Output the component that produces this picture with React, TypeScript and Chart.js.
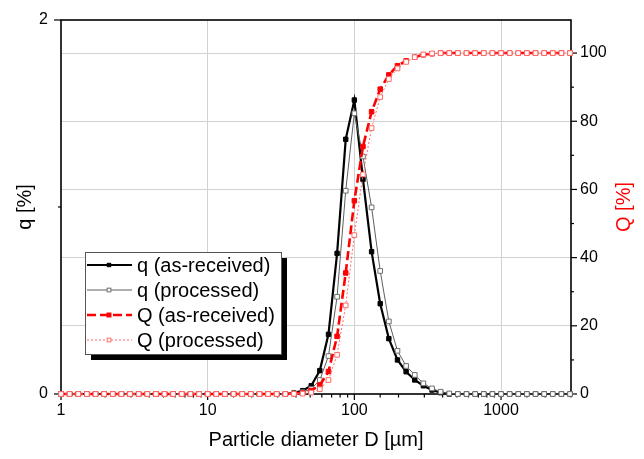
import React, { useEffect, useRef } from "react";
import { Chart, registerables } from "chart.js";

Chart.register(...registerables);

// ---------- data ----------
const DIAMETERS = [
  1, 1.145, 1.311, 1.501, 1.719, 1.968, 2.254, 2.581, 2.955, 3.384, 3.875, 4.437, 5.08, 5.817, 6.661, 7.627, 8.733,
  10, 11.45, 13.11, 15.01, 17.19, 19.68, 22.54, 25.81, 29.55, 33.84, 38.75, 44.37, 50.8, 58.17, 66.61, 76.27, 87.33,
  100, 114.5, 131.1, 150.1, 171.9, 196.8, 225.4, 258.1, 295.5, 338.4, 387.5, 443.7, 508, 581.7, 666.1, 762.7, 873.3,
  1000, 1145, 1311, 1501, 1719, 1968, 2254, 2581, 2955,
];

const Q_DENS_RECEIVED = [
  0, 0, 0, 0, 0, 0, 0, 0, 0, 0, 0, 0, 0, 0, 0, 0, 0,
  0, 0, 0, 0, 0, 0, 0, 0, 0, 0, 0.005, 0.018, 0.044, 0.125, 0.319, 0.752, 1.362,
  1.572, 1.148, 0.761, 0.483, 0.296, 0.182, 0.119, 0.075, 0.044, 0.021, 0.007, 0, 0, 0, 0, 0, 0,
  0, 0, 0, 0, 0, 0, 0, 0, 0,
];

const Q_DENS_PROCESSED = [
  0, 0, 0, 0, 0, 0, 0, 0, 0, 0, 0, 0, 0, 0, 0, 0, 0,
  0, 0, 0, 0, 0, 0, 0, 0, 0, 0, 0.003, 0.01, 0.027, 0.075, 0.203, 0.52, 1.087,
  1.501, 1.27, 0.998, 0.658, 0.388, 0.231, 0.15, 0.102, 0.057, 0.03, 0.012, 0.003, 0, 0, 0, 0, 0,
  0, 0, 0, 0, 0, 0, 0, 0, 0,
];

const Q_CUM_RECEIVED = [
  0, 0, 0, 0, 0, 0, 0, 0, 0, 0, 0, 0, 0, 0, 0, 0, 0,
  0, 0, 0, 0, 0, 0, 0, 0, 0, 0, 0.1, 0.3, 1.0, 2.6, 6.6, 16.9, 35.5,
  56.7, 72.6, 82.8, 89.4, 93.6, 96.3, 97.7, 98.8, 99.5, 99.8, 100, 100, 100, 100, 100, 100, 100,
  100, 100, 100, 100, 100, 100, 100, 100, 100,
];

const Q_CUM_PROCESSED = [
  0, 0, 0, 0, 0, 0, 0, 0, 0, 0, 0, 0, 0, 0, 0, 0, 0,
  0, 0, 0, 0, 0, 0, 0, 0, 0, 0, 0.05, 0.1, 0.4, 1.4, 4.1, 11.5, 26.0,
  46.6, 64.4, 78.0, 87.1, 92.4, 95.5, 97.4, 98.8, 99.6, 99.9, 100, 100, 100, 100, 100, 100, 100,
  100, 100, 100, 100, 100, 100, 100, 100, 100,
];

const SERIES_LABELS = ["q (as-received)", "q (processed)", "Q (as-received)", "Q (processed)"];
const X_TICK_VALUES = [1, 10, 100, 1000];
const X_TICK_LABELS = ["1", "10", "100", "1000"];
const LEFT_TICK_VALUES = [0, 2];
const LEFT_TICK_LABELS = ["0", "2"];
const RIGHT_TICK_VALUES = [0, 20, 40, 60, 80, 100];
const RIGHT_TICK_LABELS = ["0", "20", "40", "60", "80", "100"];
const X_TITLE = "Particle diameter D [µm]";
const LEFT_TITLE = "q [%]";
const RIGHT_TITLE = "Q [%]";

// ---------- styles ----------
const FONT = '"Liberation Sans", Arial, Helvetica, sans-serif';
const GRID = "#d2d2d2";
const RED = "#ff0000";
const PINK = "#ff6a6a";
const GRAY = "#5e5e5e";

const STYLES = [
  { line: "#000", width: 2.2, dash: [] as number[], fill: "#000", stroke: "#000", r: 3.1, lr: 2.4 },
  { line: GRAY, width: 1, dash: [] as number[], fill: "#fff", stroke: "#6e6e6e", r: 3.3, lr: 2.6 },
  { line: RED, width: 2.6, dash: [9, 4], fill: RED, stroke: RED, r: 3.2, lr: 2.8 },
  { line: PINK, width: 1, dash: [2, 2], fill: "#fff", stroke: PINK, r: 3.3, lr: 2.6 },
];

const isPow10 = (v: number) => {
  if (!(v > 0)) return false;
  const l = Math.log10(v);
  return Math.abs(l - Math.round(l)) < 1e-9;
};

const decorPlugin = {
  id: "decor",
  beforeDatasetsDraw(chart: any) {
    const { ctx, chartArea: a, scales } = chart;
    const x = scales.x;
    const y = scales.y;
    const y1 = scales.y1;
    ctx.save();
    ctx.strokeStyle = "#000";
    ctx.lineWidth = 1.2;
    const seg = (x0: number, y0: number, x1: number, y1_: number) => {
      ctx.beginPath();
      ctx.moveTo(x0, y0);
      ctx.lineTo(x1, y1_);
      ctx.stroke();
    };
    // x ticks (outward, bottom)
    x.ticks.forEach((t: any) => {
      const px = x.getPixelForValue(t.value);
      if (px < a.left - 0.5 || px > a.right + 0.5) return;
      const len = isPow10(t.value) ? 6 : 3.5;
      seg(px, a.bottom, px, a.bottom + len);
    });
    // left ticks
    y.ticks.forEach((t: any) => {
      const py = y.getPixelForValue(t.value);
      const major = LEFT_TICK_VALUES.includes(t.value);
      seg(a.left, py, a.left - (major ? 7 : 3), py);
    });
    // right ticks
    y1.ticks.forEach((t: any) => {
      if (t.value > 100.5) return;
      const py = y1.getPixelForValue(t.value);
      const major = RIGHT_TICK_VALUES.includes(t.value);
      seg(a.right, py, a.right + (major ? 6 : 3), py);
    });
    // frame
    ctx.lineWidth = 1.6;
    ctx.strokeRect(a.left, a.top, a.right - a.left, a.bottom - a.top);
    ctx.restore();
  },
  afterDraw(chart: any) {
    const { ctx, chartArea: a, scales } = chart;
    const x = scales.x;
    const y = scales.y;
    const y1 = scales.y1;
    ctx.save();
    ctx.fillStyle = "#000";
    ctx.font = `16px ${FONT}`;
    ctx.textBaseline = "middle";
    ctx.textAlign = "center";
    X_TICK_VALUES.forEach((v, i) => {
      ctx.fillText(X_TICK_LABELS[i], x.getPixelForValue(v), a.bottom + 17);
    });
    ctx.textAlign = "right";
    LEFT_TICK_VALUES.forEach((v, i) => {
      ctx.fillText(LEFT_TICK_LABELS[i], a.left - 13, y.getPixelForValue(v));
    });
    ctx.textAlign = "left";
    RIGHT_TICK_VALUES.forEach((v, i) => {
      ctx.fillText(RIGHT_TICK_LABELS[i], a.right + 9, y1.getPixelForValue(v));
    });
    // titles
    ctx.font = `20px ${FONT}`;
    ctx.textAlign = "center";
    ctx.fillText(X_TITLE, (a.left + a.right) / 2, a.bottom + 46);
    const midY = (a.top + a.bottom) / 2;
    ctx.save();
    ctx.translate(25, midY);
    ctx.rotate(-Math.PI / 2);
    ctx.fillText(LEFT_TITLE, 0, 0);
    ctx.restore();
    ctx.save();
    ctx.fillStyle = RED;
    ctx.translate(624, midY);
    ctx.rotate(-Math.PI / 2);
    ctx.fillText(RIGHT_TITLE, 0, 0);
    ctx.restore();

    // legend box with shadow
    const bx = 85, by = 252, bw = 196, bh = 102, sh = 6;
    ctx.fillStyle = "#000";
    ctx.fillRect(bx + sh, by + sh, bw, bh);
    ctx.fillStyle = "#fff";
    ctx.fillRect(bx, by, bw, bh);
    ctx.strokeStyle = "#555";
    ctx.lineWidth = 1;
    ctx.strokeRect(bx + 0.5, by + 0.5, bw, bh);
    ctx.font = `20px ${FONT}`;
    ctx.textAlign = "left";
    ctx.textBaseline = "middle";
    SERIES_LABELS.forEach((label, i) => {
      const s = STYLES[i];
      const ry = by + 13 + i * 25;
      ctx.save();
      ctx.strokeStyle = s.line;
      ctx.lineWidth = s.width;
      ctx.setLineDash(s.dash);
      ctx.beginPath();
      ctx.moveTo(bx + 2, ry);
      ctx.lineTo(bx + 47, ry);
      ctx.stroke();
      ctx.setLineDash([]);
      const side = s.lr * Math.SQRT2;
      ctx.fillStyle = s.fill;
      ctx.fillRect(bx + 24 - side / 2, ry - side / 2, side, side);
      ctx.strokeStyle = s.stroke;
      ctx.lineWidth = 1;
      ctx.strokeRect(bx + 24 - side / 2, ry - side / 2, side, side);
      ctx.restore();
      ctx.fillStyle = "#000";
      ctx.fillText(label, bx + 52, ry + 1);
    });
    ctx.restore();
  },
};

const makeDataset = (label: string, values: number[], s: any, axis: string, order: number) => ({
  label,
  data: DIAMETERS.map((d, i) => ({ x: d, y: values[i] })),
  yAxisID: axis,
  borderColor: s.line,
  borderWidth: s.width,
  borderDash: s.dash,
  pointStyle: "rect",
  pointRadius: s.r,
  pointBackgroundColor: s.fill,
  pointBorderColor: s.stroke,
  pointBorderWidth: 1,
  tension: 0,
  fill: false,
  clip: false,
  order,
});

export default function App() {
  const ref = useRef<HTMLCanvasElement | null>(null);

  useEffect(() => {
    if (!ref.current) return;
    Chart.defaults.font.family = FONT;
    const chart = new Chart(ref.current, {
      type: "line",
      data: {
        datasets: [
          makeDataset(SERIES_LABELS[0], Q_DENS_RECEIVED, STYLES[0], "y", 4),
          makeDataset(SERIES_LABELS[1], Q_DENS_PROCESSED, STYLES[1], "y", 3),
          makeDataset(SERIES_LABELS[2], Q_CUM_RECEIVED, STYLES[2], "y1", 2),
          makeDataset(SERIES_LABELS[3], Q_CUM_PROCESSED, STYLES[3], "y1", 1),
        ] as any,
      },
      options: {
        responsive: false,
        animation: false,
        devicePixelRatio: 1,
        layout: { padding: { top: 20, left: 0, right: 0, bottom: 0 } },
        plugins: { legend: { display: false }, tooltip: { enabled: false } },
        scales: {
          x: {
            type: "logarithmic",
            min: 1,
            max: 3000,
            afterFit: (s: any) => { s.height = 65; },
            border: { display: false },
            ticks: { display: false, autoSkip: false },
            grid: {
              drawTicks: false,
              lineWidth: 1,
              color: (c: any) => {
                const v = c.tick ? c.tick.value : 0;
                return isPow10(v) && v > 1 ? GRID : "rgba(0,0,0,0)";
              },
            },
          },
          y: {
            type: "linear",
            position: "left",
            min: 0,
            max: 2,
            afterFit: (s: any) => { s.width = 61; },
            border: { display: false },
            ticks: { display: false, stepSize: 1 },
            grid: { display: false },
          },
          y1: {
            type: "linear",
            position: "right",
            min: 0,
            max: 109.7,
            afterFit: (s: any) => { s.width = 73; },
            border: { display: false },
            ticks: { display: false, stepSize: 10 },
            grid: {
              drawTicks: false,
              lineWidth: 1,
              color: (c: any) => {
                const v = c.tick ? c.tick.value : 0;
                return v > 0 && v <= 100 && Math.abs(v % 20) < 1e-9 ? GRID : "rgba(0,0,0,0)";
              },
            },
          },
        },
      } as any,
      plugins: [decorPlugin],
    });
    return () => chart.destroy();
  }, []);

  return (
    <div style={{ position: "fixed", left: 0, top: 0, width: 644, height: 459, background: "#fff" }}>
      <canvas ref={ref} width={644} height={459} style={{ display: "block", width: 644, height: 459 }} />
    </div>
  );
}
